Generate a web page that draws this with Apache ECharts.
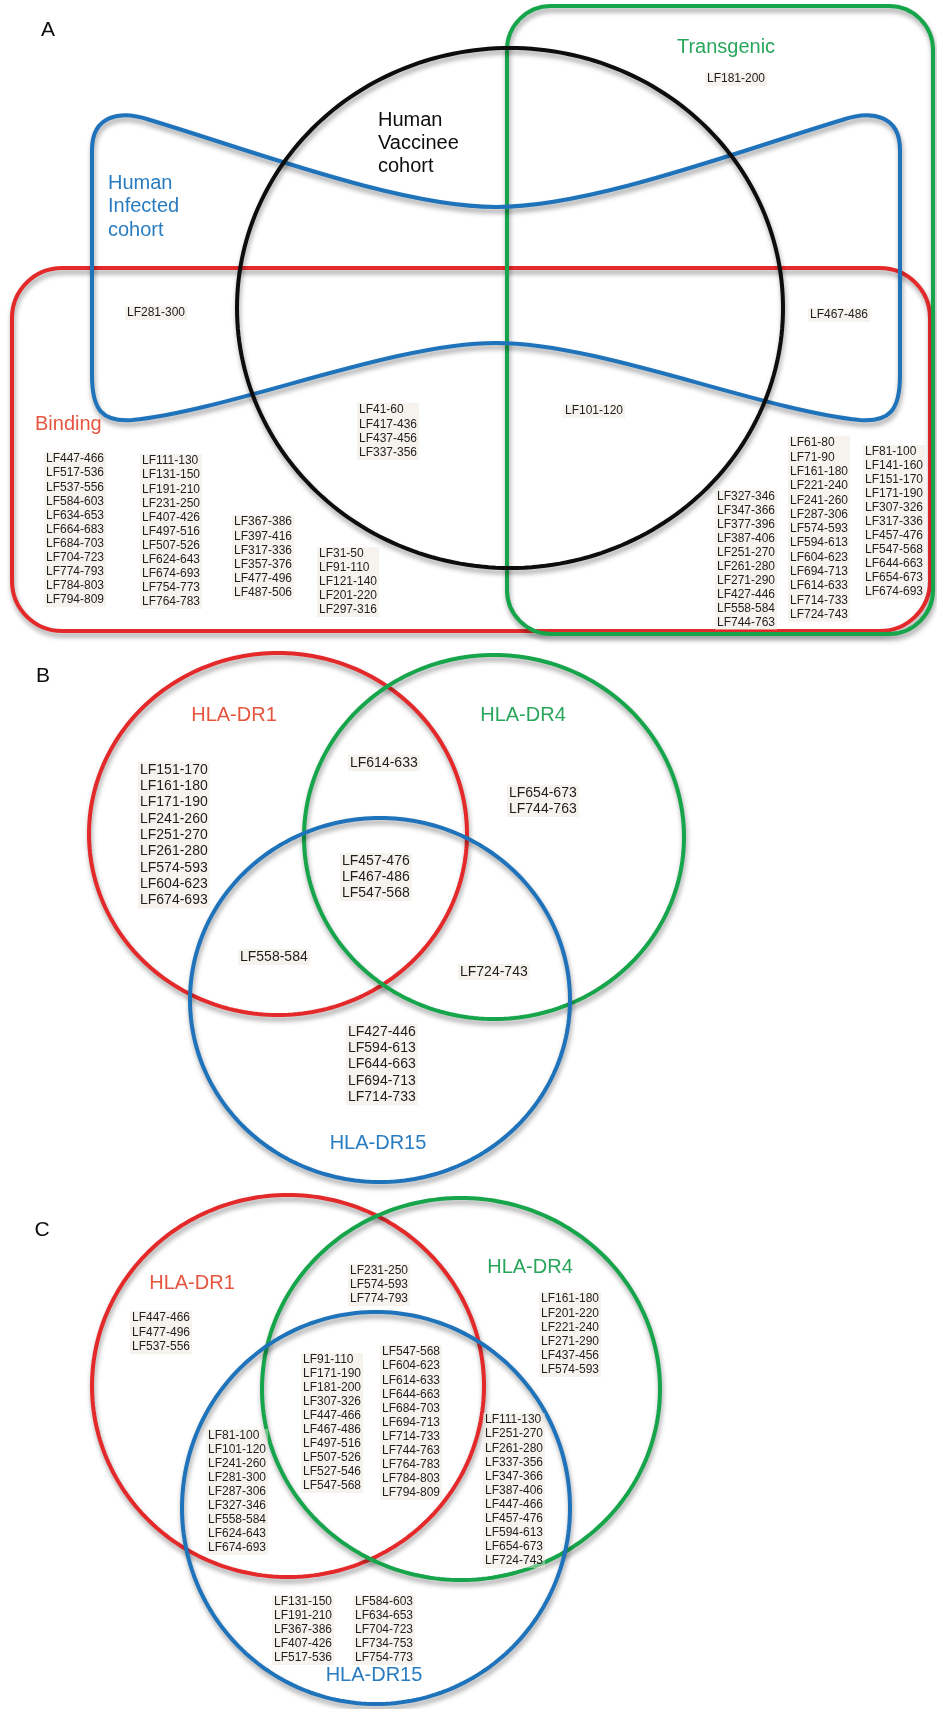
<!DOCTYPE html>
<html><head><meta charset="utf-8">
<script src="https://cdn.jsdelivr.net/npm/echarts@6/dist/echarts.min.js"></script>
<style>html,body{margin:0;padding:0;background:#fff}#c{width:937px;height:1709px}</style>
</head><body><div id="c"></div>
<script>
// ---------- DATA: epitope lists per Venn region ----------
// Panel A
const aTransgenicOnly = ['LF181-200'];
const aInfBind = ['LF281-300'];
const aInfBindTrans = ['LF467-486'];
const aVacInfBind = ['LF41-60','LF417-436','LF437-456','LF337-356'];
const aVacInfBindTrans = ['LF101-120'];
const aBind1 = ['LF447-466','LF517-536','LF537-556','LF584-603','LF634-653','LF664-683','LF684-703','LF704-723','LF774-793','LF784-803','LF794-809'];
const aBind2 = ['LF111-130','LF131-150','LF191-210','LF231-250','LF407-426','LF497-516','LF507-526','LF624-643','LF674-693','LF754-773','LF764-783'];
const aBind3 = ['LF367-386','LF397-416','LF317-336','LF357-376','LF477-496','LF487-506'];
const aVacBind = ['LF31-50','LF91-110','LF121-140','LF201-220','LF297-316'];
const aVacBindTrans = ['LF327-346','LF347-366','LF377-396','LF387-406','LF251-270','LF261-280','LF271-290','LF427-446','LF558-584','LF744-763'];
const aBindTrans1 = ['LF61-80','LF71-90','LF161-180','LF221-240','LF241-260','LF287-306','LF574-593','LF594-613','LF604-623','LF694-713','LF614-633','LF714-733','LF724-743'];
const aBindTrans2 = ['LF81-100','LF141-160','LF151-170','LF171-190','LF307-326','LF317-336','LF457-476','LF547-568','LF644-663','LF654-673','LF674-693'];
// Panel B
const bDR1 = ['LF151-170','LF161-180','LF171-190','LF241-260','LF251-270','LF261-280','LF574-593','LF604-623','LF674-693'];
const bDR1DR4 = ['LF614-633'];
const bDR4 = ['LF654-673','LF744-763'];
const bAll = ['LF457-476','LF467-486','LF547-568'];
const bDR1DR15 = ['LF558-584'];
const bDR4DR15 = ['LF724-743'];
const bDR15 = ['LF427-446','LF594-613','LF644-663','LF694-713','LF714-733'];
// Panel C
const cDR1 = ['LF447-466','LF477-496','LF537-556'];
const cDR1DR4 = ['LF231-250','LF574-593','LF774-793'];
const cDR4 = ['LF161-180','LF201-220','LF221-240','LF271-290','LF437-456','LF574-593'];
const cAll1 = ['LF91-110','LF171-190','LF181-200','LF307-326','LF447-466','LF467-486','LF497-516','LF507-526','LF527-546','LF547-568'];
const cAll2 = ['LF547-568','LF604-623','LF614-633','LF644-663','LF684-703','LF694-713','LF714-733','LF744-763','LF764-783','LF784-803','LF794-809'];
const cDR1DR15 = ['LF81-100','LF101-120','LF241-260','LF281-300','LF287-306','LF327-346','LF558-584','LF624-643','LF674-693'];
const cDR4DR15 = ['LF111-130','LF251-270','LF261-280','LF337-356','LF347-366','LF387-406','LF447-466','LF457-476','LF594-613','LF654-673','LF724-743'];
const cDR15a = ['LF131-150','LF191-210','LF367-386','LF407-426','LF517-536'];
const cDR15b = ['LF584-603','LF634-653','LF704-723','LF734-753','LF754-773'];

// ---------- LAYOUT (positions in chart units) ----------
const RED = '#e4292b', GREEN = '#17a54c', BLUE = '#1e73bb', BLACK = '#0d0d0d';
const RED_T = '#e6553f', GREEN_T = '#2aa65c', BLUE_T = '#2a7cc0';

const rects = [ // x1,y1,x2,y2,r
  {x1: 12, y1: 268, x2: 930, y2: 631, r: 50, color: RED},
  {x1: 507, y1: 6, x2: 933, y2: 634, r: 44, color: GREEN}
];
const ellipses = [
  {cx: 510, cy: 308, rx: 273, ry: 260, color: BLACK},
  {cx: 278, cy: 834, rx: 189, ry: 181, color: RED},
  {cx: 494, cy: 837, rx: 190, ry: 182, color: GREEN},
  {cx: 380, cy: 1000, rx: 190, ry: 182, color: BLUE},
  {cx: 288, cy: 1386, rx: 196, ry: 191, color: RED},
  {cx: 461, cy: 1389, rx: 199, ry: 191, color: GREEN},
  {cx: 376, cy: 1508, rx: 194, ry: 196, color: BLUE}
];
// blue "Human Infected cohort" outline: path commands with points in chart units
const bluePath = [
  ['M', [92, 375]],
  ['L', [92, 150]],
  ['C', [92, 115], [120, 110], [150, 120]],
  ['C', [250, 150], [400, 207], [496, 207]],
  ['C', [592, 207], [742, 150], [842, 120]],
  ['C', [872, 110], [900, 115], [900, 150]],
  ['L', [900, 375]],
  ['C', [900, 410], [890, 422], [860, 420]],
  ['C', [760, 410], [600, 343], [496, 343]],
  ['C', [392, 343], [232, 410], [132, 420]],
  ['C', [102, 422], [92, 410], [92, 375]],
  ['Z']
];

const groups = [
  {lines: aTransgenicOnly, x: 705, y: 79, fs: 12, lh: 14},
  {lines: aInfBind, x: 125, y: 313, fs: 12, lh: 14},
  {lines: aInfBindTrans, x: 808, y: 315, fs: 12, lh: 14},
  {lines: aVacInfBind, x: 357, y: 410, fs: 12, lh: 14.3},
  {lines: aVacInfBindTrans, x: 563, y: 411, fs: 12, lh: 14},
  {lines: aBind1, x: 44, y: 459, fs: 12, lh: 14.1},
  {lines: aBind2, x: 140, y: 461, fs: 12, lh: 14.1},
  {lines: aBind3, x: 232, y: 522, fs: 12, lh: 14.2},
  {lines: aVacBind, x: 317, y: 554, fs: 12, lh: 14},
  {lines: aVacBindTrans, x: 715, y: 497, fs: 12, lh: 14},
  {lines: aBindTrans1, x: 788, y: 443, fs: 12, lh: 14.3},
  {lines: aBindTrans2, x: 863, y: 452, fs: 12, lh: 14},
  {lines: bDR1, x: 138, y: 770, fs: 14, lh: 16.3},
  {lines: bDR1DR4, x: 348, y: 763, fs: 14, lh: 16.3},
  {lines: bDR4, x: 507, y: 793, fs: 14, lh: 16},
  {lines: bAll, x: 340, y: 861, fs: 14, lh: 16},
  {lines: bDR1DR15, x: 238, y: 957, fs: 14, lh: 16},
  {lines: bDR4DR15, x: 458, y: 972, fs: 14, lh: 16},
  {lines: bDR15, x: 346, y: 1032, fs: 14, lh: 16.3},
  {lines: cDR1, x: 130, y: 1318, fs: 12, lh: 14.5},
  {lines: cDR1DR4, x: 348, y: 1271, fs: 12, lh: 14},
  {lines: cDR4, x: 539, y: 1299, fs: 12, lh: 14.2},
  {lines: cAll1, x: 301, y: 1360, fs: 12, lh: 14},
  {lines: cAll2, x: 380, y: 1352, fs: 12, lh: 14.1},
  {lines: cDR1DR15, x: 206, y: 1436, fs: 12, lh: 14},
  {lines: cDR4DR15, x: 483, y: 1420, fs: 12, lh: 14.1},
  {lines: cDR15a, x: 272, y: 1602, fs: 12, lh: 14},
  {lines: cDR15b, x: 353, y: 1602, fs: 12, lh: 14}
];
const titles = [
  {text: 'A', x: 48, y: 30, fs: 21, color: BLACK, align: 'center'},
  {text: 'B', x: 43, y: 676, fs: 21, color: BLACK, align: 'center'},
  {text: 'C', x: 42, y: 1230, fs: 21, color: BLACK, align: 'center'},
  {text: 'Transgenic', x: 726, y: 47, fs: 20, color: GREEN_T, align: 'center'},
  {text: 'Human\nVaccinee\ncohort', x: 378, y: 120, fs: 20, color: BLACK, align: 'left', lh: 23},
  {text: 'Human\nInfected\ncohort', x: 108, y: 183, fs: 20, color: BLUE_T, align: 'left', lh: 23.5},
  {text: 'Binding', x: 35, y: 424, fs: 20, color: RED_T, align: 'left'},
  {text: 'HLA-DR1', x: 234, y: 715, fs: 20, color: RED_T, align: 'center'},
  {text: 'HLA-DR4', x: 523, y: 715, fs: 20, color: GREEN_T, align: 'center'},
  {text: 'HLA-DR15', x: 378, y: 1143, fs: 20, color: BLUE_T, align: 'center'},
  {text: 'HLA-DR1', x: 192, y: 1283, fs: 20, color: RED_T, align: 'center'},
  {text: 'HLA-DR4', x: 530, y: 1267, fs: 20, color: GREEN_T, align: 'center'},
  {text: 'HLA-DR15', x: 374, y: 1675, fs: 20, color: BLUE_T, align: 'center'}
];

const FONT = '"Liberation Sans", Arial, Helvetica, sans-serif';
const LW = 4;
function strokeStyle(color) {
  return {fill: 'none', stroke: color, lineWidth: LW,
    shadowColor: 'rgba(0,0,0,0.38)', shadowBlur: 5, shadowOffsetX: 1, shadowOffsetY: 4};
}

const chart = echarts.init(document.getElementById('c'));
chart.setOption({
  animation: false,
  grid: {left: 0, right: 0, top: 0, bottom: 0},
  xAxis: {type: 'value', min: 0, max: 937, show: false},
  yAxis: {type: 'value', min: 0, max: 1709, inverse: true, show: false},
  series: [
    { // rounded rectangles
      type: 'custom', silent: true, clip: false,
      data: rects.map(r => [r.x1, r.y1, r.x2, r.y2]),
      renderItem: (params, api) => {
        const r = rects[params.dataIndex];
        const p1 = api.coord([r.x1, r.y1]), p2 = api.coord([r.x2, r.y2]);
        const rad = api.size([r.r, 0])[0];
        return {type: 'rect', shape: {x: Math.min(p1[0], p2[0]), y: Math.min(p1[1], p2[1]),
          width: Math.abs(p2[0] - p1[0]), height: Math.abs(p2[1] - p1[1]), r: rad},
          style: strokeStyle(r.color)};
      }
    },
    { // blue cohort outline
      type: 'custom', silent: true, clip: false,
      data: [[496, 270]],
      renderItem: (params, api) => {
        let d = '';
        bluePath.forEach(cmd => {
          d += cmd[0] + ' ';
          for (let i = 1; i < cmd.length; i++) {
            const p = api.coord(cmd[i]);
            d += p[0].toFixed(2) + ' ' + p[1].toFixed(2) + ' ';
          }
        });
        return {type: 'path', shape: {pathData: d}, style: strokeStyle(BLUE)};
      }
    },
    { // ellipses / circles
      type: 'custom', silent: true, clip: false,
      data: ellipses.map(e => [e.cx, e.cy]),
      renderItem: (params, api) => {
        const e = ellipses[params.dataIndex];
        const pts = [];
        for (let i = 0; i < 240; i++) {
          const t = i / 240 * Math.PI * 2;
          pts.push(api.coord([e.cx + e.rx * Math.cos(t), e.cy + e.ry * Math.sin(t)]));
        }
        return {type: 'polygon', shape: {points: pts}, style: strokeStyle(e.color)};
      }
    },
    { // epitope lists
      type: 'custom', silent: true, clip: false,
      data: groups.map(g => [g.x, g.y]),
      renderItem: (params, api) => {
        const g = groups[params.dataIndex];
        const p = api.coord([g.x, g.y - g.lh / 2]);
        return {type: 'text', x: p[0], y: p[1],
          style: {text: g.lines.join('\n'), fill: '#1e1e1e',
            font: g.fs + 'px ' + FONT, lineHeight: g.lh,
            align: 'left', verticalAlign: 'top',
            backgroundColor: 'rgba(236,228,220,0.45)', padding: [0, 2]}};
      }
    },
    { // titles
      type: 'custom', silent: true, clip: false,
      data: titles.map(t => [t.x, t.y]),
      renderItem: (params, api) => {
        const t = titles[params.dataIndex];
        const lh = t.lh || t.fs * 1.2;
        const p = api.coord([t.x, t.y - lh / 2]);
        return {type: 'text', x: p[0], y: p[1],
          style: {text: t.text, fill: t.color, font: t.fs + 'px ' + FONT,
            lineHeight: lh, align: t.align, verticalAlign: 'top'}};
      }
    }
  ]
});
</script>
</body></html>
